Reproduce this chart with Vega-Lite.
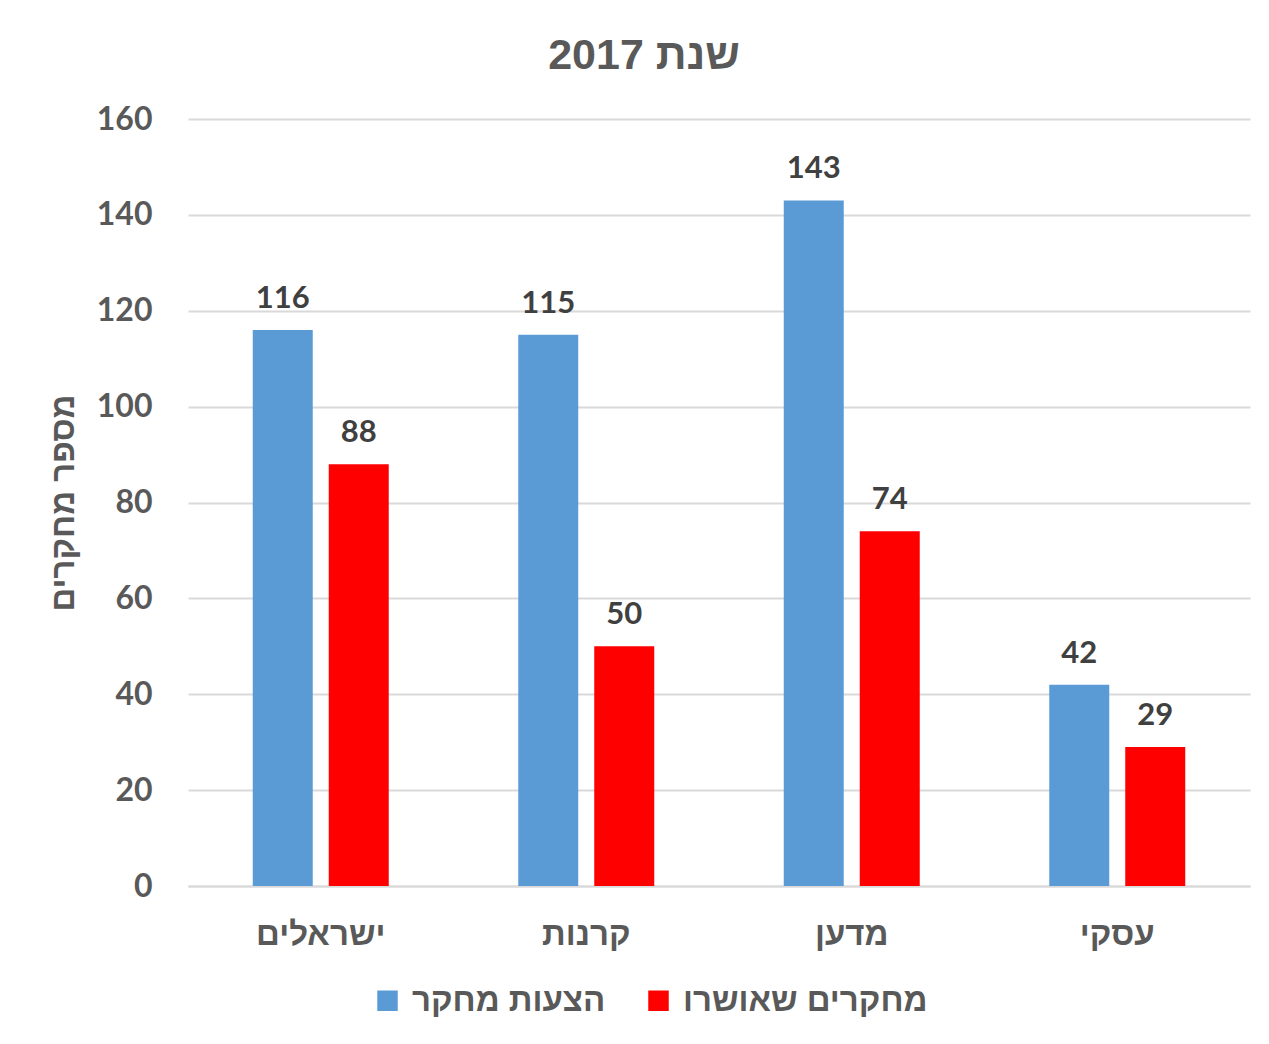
{
  "$schema": "https://vega.github.io/schema/vega-lite/v6.json",
  "autosize": "none",
  "width": 1062,
  "height": 767,
  "padding": {"left": 188, "top": 119, "right": 19, "bottom": 158},
  "background": "white",
  "title": {
    "text": "שנת 2017",
    "font": "Liberation Sans",
    "fontSize": 43,
    "fontWeight": "bold",
    "color": "#595959",
    "anchor": "middle",
    "baseline": "alphabetic",
    "dx": -75,
    "dy": 34,
    "offset": 25
  },
  "data": {
    "values": [
      {"category": "ישראלים", "series": "הצעות מחקר", "value": 116},
      {"category": "ישראלים", "series": "מחקרים שאושרו", "value": 88},
      {"category": "קרנות", "series": "הצעות מחקר", "value": 115},
      {"category": "קרנות", "series": "מחקרים שאושרו", "value": 50},
      {"category": "מדען", "series": "הצעות מחקר", "value": 143},
      {"category": "מדען", "series": "מחקרים שאושרו", "value": 74},
      {"category": "עסקי", "series": "הצעות מחקר", "value": 42},
      {"category": "עסקי", "series": "מחקרים שאושרו", "value": 29}
    ]
  },
  "encoding": {
    "x": {
      "field": "category",
      "type": "nominal",
      "sort": ["ישראלים", "קרנות", "מדען", "עסקי"],
      "scale": {"paddingInner": 0, "paddingOuter": 0},
      "axis": {
        "title": null,
        "labelAngle": 0,
        "labelFont": "Liberation Sans",
        "labelFontSize": 33,
        "labelFontWeight": "bold",
        "labelColor": "#595959",
        "labelPadding": 32,
        "ticks": false,
        "domainColor": "#D9D9D9",
        "domainWidth": 2,
        "grid": false
      }
    },
    "xOffset": {
      "field": "series",
      "type": "nominal",
      "sort": ["הצעות מחקר", "מחקרים שאושרו"],
      "scale": {"paddingInner": 0.2105, "paddingOuter": 0.852}
    },
    "y": {
      "field": "value",
      "type": "quantitative",
      "scale": {"domain": [0, 160], "nice": false},
      "axis": {
        "title": "מספר מחקרים",
        "titleFont": "Liberation Sans",
        "titleFontSize": 33,
        "titleFontWeight": "bold",
        "titleColor": "#595959",
        "titlePadding": 16,
        "values": [0, 20, 40, 60, 80, 100, 120, 140, 160],
        "labelFont": "Lato",
        "labelFontSize": 32,
        "labelFontWeight": "bold",
        "labelColor": "#595959",
        "labelPadding": 36,
        "ticks": false,
        "domain": false,
        "gridColor": "#D9D9D9",
        "gridWidth": 2
      }
    }
  },
  "layer": [
    {
      "mark": {"type": "bar"},
      "encoding": {
        "color": {
          "field": "series",
          "type": "nominal",
          "sort": ["הצעות מחקר", "מחקרים שאושרו"],
          "scale": {"domain": ["הצעות מחקר", "מחקרים שאושרו"], "range": ["#5B9BD5", "#FF0000"]},
          "legend": {
            "title": null,
            "orient": "none",
            "legendX": 183,
            "legendY": 865,
            "direction": "horizontal",
            "symbolType": "square",
            "symbolSize": 420,
            "symbolStrokeWidth": 0,
            "symbolOpacity": 1,
            "labelFont": "Liberation Sans",
            "labelFontSize": 33,
            "labelFontWeight": "bold",
            "labelColor": "#595959",
            "labelOffset": 8,
            "labelLimit": 400,
            "columnPadding": 36
          }
        }
      }
    },
    {
      "mark": {
        "type": "text",
        "font": "Lato",
        "fontSize": 31,
        "fontWeight": "bold",
        "color": "#404040",
        "baseline": "alphabetic",
        "dy": -22
      },
      "encoding": {
        "text": {"field": "value", "type": "quantitative"}
      }
    }
  ],
  "config": {
    "view": {"stroke": null}
  }
}
